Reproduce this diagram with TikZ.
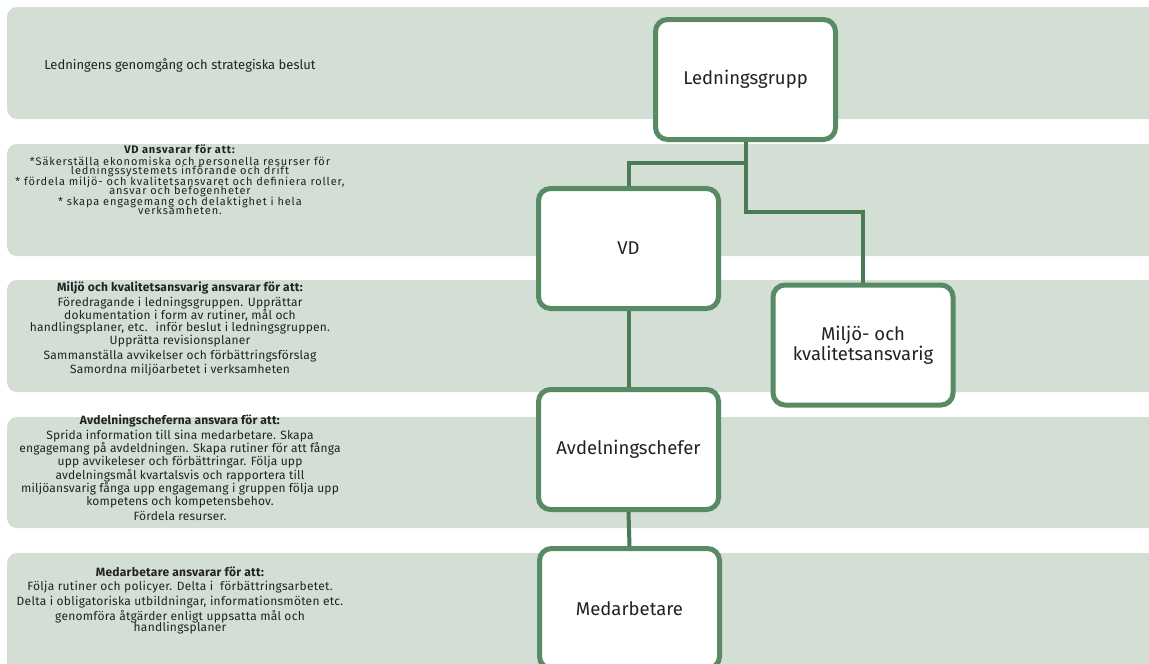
\documentclass[tikz,border=0pt]{standalone}
\usepackage{fontspec}
\setmainfont{Fira Sans}
\definecolor{band}{HTML}{D3DED4}
\definecolor{boxline}{HTML}{588B64}
\definecolor{connline}{HTML}{4B7A57}
\definecolor{txt}{HTML}{222222}
\newcommand\tightlines{\lineskiplimit=-100pt\relax}
\begin{document}
\begin{tikzpicture}[x=1pt,y=-1pt,
 bandbox/.style={fill=band,draw=none,rounded corners=10pt},
 orgbox/.style={draw=boxline,fill=white,line width=5pt,rounded corners=12pt,minimum width=180pt,minimum height=120pt,text=txt,font=\fontsize{18.5}{20.5}\selectfont,align=center,inner sep=0pt},
 conn/.style={draw=connline,line width=4pt},
 desc/.style={text=txt,align=center,inner sep=0pt}]
\path[use as bounding box] (0,0) rectangle (1149,664);
\clip (0,0) rectangle (1149,664);
% bands
\fill[bandbox] (7,7) rectangle (1175,119);
\fill[bandbox] (7,144) rectangle (1175,256);
\fill[bandbox] (7,280) rectangle (1175,392);
\fill[bandbox] (7,417) rectangle (1175,528);
\fill[bandbox] (7,553) rectangle (1175,675);
% descriptions
\node[desc,font=\fontsize{13}{14}\selectfont\tightlines] (t1) at (180,65) {Ledningens genomgång och strategiska beslut};
\node[desc,font=\fontsize{11}{9.2}\selectfont\addfontfeatures{LetterSpace=8}\tightlines] (t2) at (180,180) {\textbf{VD ansvarar för att:}\\[2.2pt] *Säkerställa ekonomiska och personella resurser för\\ ledningssystemets införande och drift\\[1.8pt] * fördela miljö- och kvalitetsansvaret och definiera roller,\\ ansvar och befogenheter\\[1.8pt] * skapa engagemang och delaktighet i hela\\ verksamheten.};
\node[desc,font=\fontsize{12}{12.5}\selectfont\addfontfeatures{LetterSpace=2}\tightlines] (t3) at (180,328.5) {\textbf{Miljö och kvalitetsansvarig ansvarar för att:}\\[3pt] Föredragande i ledningsgruppen. Upprättar\\ dokumentation i form av rutiner, mål och\\ handlingsplaner, etc.~ inför beslut i ledningsgruppen.\\ Upprätta revisionsplaner\\[3pt] Sammanställa avvikelser och förbättringsförslag\\[1pt] Samordna miljöarbetet i verksamheten};
\node[desc,font=\fontsize{12}{13.3}\selectfont\addfontfeatures{LetterSpace=1.5}\tightlines] (t4) at (180,467.5) {\textbf{Avdelningscheferna ansvara för att:}\\[1.5pt] Sprida information till sina medarbetare. Skapa\\ engagemang på avdeldningen. Skapa rutiner för att fånga\\ upp avvikeleser och förbättringar. Följa upp\\ avdelningsmål kvartalsvis och rapportera till\\ miljöansvarig fånga upp engagemang i gruppen följa upp\\ kompetens och kompetensbehov.\\[1pt] Fördela resurser.};
\node[desc,font=\fontsize{12}{11.6}\selectfont\addfontfeatures{LetterSpace=2.3}\tightlines] (t5) at (180,600.5) {\textbf{Medarbetare ansvarar för att:}\\[3pt] Följa rutiner och policyer. Delta i~ förbättringsarbetet.\\[2.5pt] Delta i obligatoriska utbildningar, informationsmöten etc.\\[3.5pt] genomföra åtgärder enligt uppsatta mål och\\ handlingsplaner};
% org boxes
\node[orgbox] (lg) at (745.5,79.5) {Ledningsgrupp};
\node[orgbox] (vd) at (628.5,248.5) {VD};
\node[orgbox] (mk) at (863,345) {Miljö- och\\kvalitetsansvarig};
\node[orgbox] (avd) at (628.5,449.5) {Avdelningschefer};
\node[orgbox] (med) at (629.5,608.5) {Medarbetare};
% connectors
\draw[conn] (lg.south) -- ++(0,21) -| (vd.north);
\draw[conn] (lg.south) -- ++(0,70) -| (mk.north);
\draw[conn] (vd.south) -- (avd.north);
\draw[conn] (avd.south) -- (med.north);
\end{tikzpicture}
\end{document}
